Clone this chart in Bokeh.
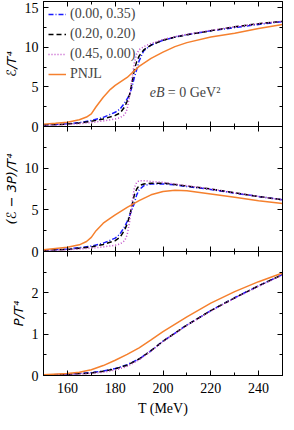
from bokeh.plotting import figure
from bokeh.models import LinearAxis, FixedTicker, Range1d, Label
from bokeh.layouts import column
from bokeh.embed import file_html
from bokeh.resources import INLINE

# ---- data ----
series_labels = ["(0.00, 0.35)", "(0.20, 0.20)", "(0.45, 0.00)", "PNJL"]

# energy density  E/T^4
T_e = [150, 155, 160, 165, 170, 175, 180, 182, 184, 185, 186, 187, 188, 189, 190, 192, 195, 200, 205, 210, 220, 230, 240, 250]
e_a = [0.2, 0.25, 0.35, 0.5, 0.75, 1.15, 1.8, 2.2, 3.0, 3.5, 4.0, 5.0, 6.2, 7.2, 8.3, 9.6, 10.3, 10.9, 11.3, 11.6, 12.1, 12.5, 12.9, 13.25]
e_b = [0.2, 0.25, 0.3, 0.45, 0.65, 0.95, 1.4, 1.7, 2.5, 3.2, 4.0, 5.5, 7.2, 8.2, 8.9, 9.7, 10.3, 10.9, 11.3, 11.6, 12.1, 12.6, 13.0, 13.3]
e_c = [0.15, 0.2, 0.25, 0.35, 0.5, 0.7, 0.95, 1.1, 1.5, 2.2, 3.8, 6.0, 8.0, 9.2, 9.7, 10.1, 10.5, 11.0, 11.35, 11.65, 12.15, 12.6, 13.0, 13.3]
T_e_pnjl = [150, 155, 160, 165, 168, 170, 172, 175, 178, 180, 185, 190, 195, 200, 205, 210, 220, 230, 240, 250]
e_pnjl = [0.3, 0.4, 0.55, 0.85, 1.2, 1.6, 2.5, 3.7, 4.7, 5.2, 6.2, 7.6, 8.6, 9.4, 10.1, 10.6, 11.3, 11.8, 12.4, 12.9]

# interaction measure (E-3P)/T^4
T_i = [150, 160, 165, 170, 175, 180, 182, 184, 185, 186, 187, 188, 189, 190, 192, 195, 200, 205, 210, 220, 230, 240, 250]
i_a = [0.15, 0.3, 0.45, 0.65, 1.0, 1.6, 2.1, 3.0, 3.6, 4.3, 5.0, 5.8, 6.8, 7.4, 7.9, 8.1, 8.1, 8.0, 7.8, 7.45, 7.0, 6.6, 6.2]
i_b = [0.15, 0.25, 0.4, 0.55, 0.85, 1.3, 1.7, 2.6, 3.3, 4.2, 5.5, 6.8, 7.5, 7.9, 8.1, 8.2, 8.2, 8.05, 7.85, 7.5, 7.05, 6.6, 6.2]
i_c = [0.1, 0.2, 0.3, 0.4, 0.55, 0.75, 0.9, 1.3, 2.0, 3.5, 5.8, 7.6, 8.3, 8.5, 8.5, 8.4, 8.3, 8.1, 7.9, 7.5, 7.05, 6.6, 6.2]
T_i_pnjl = [150, 155, 160, 165, 168, 170, 172, 175, 178, 180, 185, 190, 195, 200, 205, 210, 220, 230, 240, 250]
i_pnjl = [0.2, 0.35, 0.5, 0.8, 1.2, 1.7, 2.5, 3.4, 4.0, 4.4, 5.3, 6.1, 6.8, 7.2, 7.35, 7.3, 6.9, 6.5, 6.1, 5.75]

# pressure P/T^4
T_p = [150, 160, 170, 175, 180, 185, 190, 195, 200, 210, 220, 230, 240, 250]
p_a = [0.01, 0.03, 0.07, 0.11, 0.17, 0.26, 0.40, 0.60, 0.83, 1.22, 1.57, 1.88, 2.17, 2.44]
p_b = [0.01, 0.03, 0.06, 0.10, 0.16, 0.25, 0.40, 0.60, 0.83, 1.22, 1.57, 1.88, 2.17, 2.44]
p_c = [0.01, 0.02, 0.05, 0.08, 0.13, 0.22, 0.38, 0.59, 0.82, 1.21, 1.56, 1.87, 2.16, 2.43]
T_p_pnjl = [150, 160, 165, 170, 175, 180, 185, 190, 195, 200, 210, 220, 230, 240, 250]
p_pnjl = [0.02, 0.05, 0.08, 0.14, 0.24, 0.37, 0.51, 0.67, 0.86, 1.06, 1.42, 1.75, 2.03, 2.27, 2.48]

x_ticks = [160, 180, 200, 220, 240]
x_minor = [150, 170, 190, 210, 230, 250]

# ---- styles ----
FONT = "Liberation Serif"
LABEL_FONT = "DejaVu Sans"
FS = "14px"
styles = [
    dict(color="#1a1aff", line_dash="5 2 1 2", line_width=1.5),
    dict(color="black", line_dash="5 3", line_width=1.5),
    dict(color="#c04cc8", line_dash="1 2", line_width=1.5),
    dict(color="#f5802e", line_dash="solid", line_width=1.5),
]

W = 284
FRAME_H = 125
OVL = 8
BOTTOM = 42


def style_axis(ax, labels=True):
    ax.axis_line_color = "black"
    ax.major_tick_in = 5
    ax.major_tick_out = 0
    ax.minor_tick_in = 3
    ax.minor_tick_out = 0
    ax.major_tick_line_color = "black"
    ax.minor_tick_line_color = "black"
    ax.major_label_text_font = FONT
    if labels:
        ax.major_label_text_color = "black"
        ax.major_label_text_font_size = FS
        ax.major_label_standoff = 5
    else:
        ax.major_label_text_color = None
        ax.major_label_text_font_size = "1px"
        ax.major_label_standoff = 0
    ax.axis_label_text_font = LABEL_FONT
    ax.axis_label_text_font_size = "13px"
    ax.axis_label_text_font_style = "italic"
    ax.axis_label_text_color = "black"
    ax.axis_label_standoff = 3


def panel(yr, yticks, yminor, ylabel, overrides, height, top, bottom, margin, xlabels):
    p = figure(width=W, height=height, x_range=Range1d(150, 250), y_range=Range1d(*yr),
               output_backend="svg", toolbar_location=None,
               x_axis_location=None, y_axis_location=None,
               min_border_left=40, min_border_right=2,
               min_border_top=top, min_border_bottom=bottom, margin=margin)
    p.background_fill_color = None
    p.border_fill_color = None
    p.outline_line_color = "black"
    p.outline_line_width = 1
    for loc in ["left", "right"]:
        ax = LinearAxis(ticker=FixedTicker(ticks=yticks, minor_ticks=yminor))
        style_axis(ax, labels=(loc == "left"))
        if loc == "left":
            ax.axis_label = ylabel
            ax.major_label_overrides = overrides
        p.add_layout(ax, loc)
    for loc in ["below", "above"]:
        ax = LinearAxis(ticker=FixedTicker(ticks=x_ticks, minor_ticks=x_minor))
        style_axis(ax, labels=(loc == "below" and xlabels))
        if loc == "below" and xlabels:
            ax.axis_label = "T (MeV)"
            ax.axis_label_text_font = FONT
            ax.axis_label_text_font_size = FS
            ax.axis_label_text_font_style = "normal"
            ax.major_label_standoff = 7
            ax.axis_label_standoff = 5
        p.add_layout(ax, loc)
    p.xgrid.visible = False
    p.ygrid.visible = False
    return p


# top panel: energy density
p1 = panel((0, 15.8), [0, 5, 10, 15], [2.5, 7.5, 12.5], "ℰ/T⁴", {},
           FRAME_H + 1 + OVL, 1, OVL, (0, 0, -OVL, 0), False)
for (xs, ys), st, lab in zip([(T_e, e_a), (T_e, e_b), (T_e, e_c), (T_e_pnjl, e_pnjl)], styles, series_labels):
    p1.line(xs, ys, legend_label=lab, **st)
p1.legend.location = "top_left"
p1.legend.border_line_color = None
p1.legend.background_fill_alpha = 0
p1.legend.label_text_font = FONT
p1.legend.label_text_font_size = FS
p1.legend.glyph_width = 18
p1.legend.glyph_height = 14
p1.legend.label_height = 14
p1.legend.spacing = 4
p1.legend.padding = 2
p1.legend.margin = 5
p1.legend.label_standoff = 4
p1.add_layout(Label(x=194.5, y=4.3, text="eB", text_font=FONT, text_font_size=FS,
                    text_font_style="italic", text_baseline="middle"))
p1.add_layout(Label(x=194.5, y=4.3, x_offset=18, text="= 0 GeV²", text_font=FONT,
                    text_font_size=FS, text_baseline="middle"))

# middle panel: interaction measure
p2 = panel((0, 15), [0, 5, 10, 15], [2.5, 7.5, 12.5], "(ℰ − 3P)/T⁴", {15: ""},
           FRAME_H + OVL, 0, OVL, (0, 0, -OVL, 0), False)
for (xs, ys), st in zip([(T_i, i_a), (T_i, i_b), (T_i, i_c), (T_i_pnjl, i_pnjl)], styles):
    p2.line(xs, ys, **st)

# bottom panel: pressure
p3 = panel((0, 3), [0, 1, 2, 3], [0.5, 1.5, 2.5], "P/T⁴", {3: ""},
           FRAME_H + BOTTOM, 0, BOTTOM, (0, 0, 0, 0), True)
for (xs, ys), st in zip([(T_p, p_a), (T_p, p_b), (T_p, p_c), (T_p_pnjl, p_pnjl)], styles):
    p3.line(xs, ys, **st)

layout = column(p1, p2, p3, spacing=0)
open("out.html", "w").write(file_html(layout, INLINE))
